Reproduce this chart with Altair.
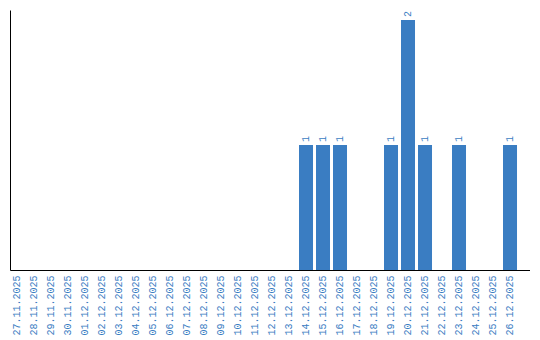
import altair as alt
import pandas as pd

dates = ["27.11.2025", "28.11.2025", "29.11.2025", "30.11.2025", "01.12.2025",
         "02.12.2025", "03.12.2025", "04.12.2025", "05.12.2025", "06.12.2025",
         "07.12.2025", "08.12.2025", "09.12.2025", "10.12.2025", "11.12.2025",
         "12.12.2025", "13.12.2025", "14.12.2025", "15.12.2025", "16.12.2025",
         "17.12.2025", "18.12.2025", "19.12.2025", "20.12.2025", "21.12.2025",
         "22.12.2025", "23.12.2025", "24.12.2025", "25.12.2025", "26.12.2025"]
counts = [0, 0, 0, 0, 0, 0, 0, 0, 0, 0, 0, 0, 0, 0, 0, 0, 0,
          1, 1, 1, 0, 0, 1, 2, 1, 0, 1, 0, 0, 1]

df = pd.DataFrame({"date": dates, "count": counts})
df["label"] = df["count"].apply(lambda v: str(v) if v > 0 else "")

BLUE = "#3a7dc2"
FONT = "Liberation Mono"

x = alt.X("date:N", sort=dates, title=None,
          scale=alt.Scale(paddingInner=0.176, paddingOuter=0.382, align=0),
          axis=alt.Axis(labelAngle=-90, labelFont=FONT, labelFontSize=10,
                        labelColor=BLUE, ticks=False, domainColor="black",
                        labelPadding=5, grid=False))
y = alt.Y("count:Q", title=None, scale=alt.Scale(domain=[0, 2.08], nice=False),
          axis=alt.Axis(labels=False, ticks=False, grid=False, domainColor="black"))

bars = alt.Chart(df).mark_bar(color=BLUE).encode(x=x, y=y)
text = alt.Chart(df).mark_text(angle=270, align="left", baseline="middle", dx=3,
                               font=FONT, fontSize=10, color=BLUE).encode(
    x=alt.X("date:N", sort=dates), y="count:Q", text="label:N")

chart = (bars + text).properties(width=520, height=260, padding={"left": 10, "top": 10, "right": 0, "bottom": 0}).configure_view(stroke=None)

chart.save("out.html", embed_options={"renderer": "svg", "actions": False})
